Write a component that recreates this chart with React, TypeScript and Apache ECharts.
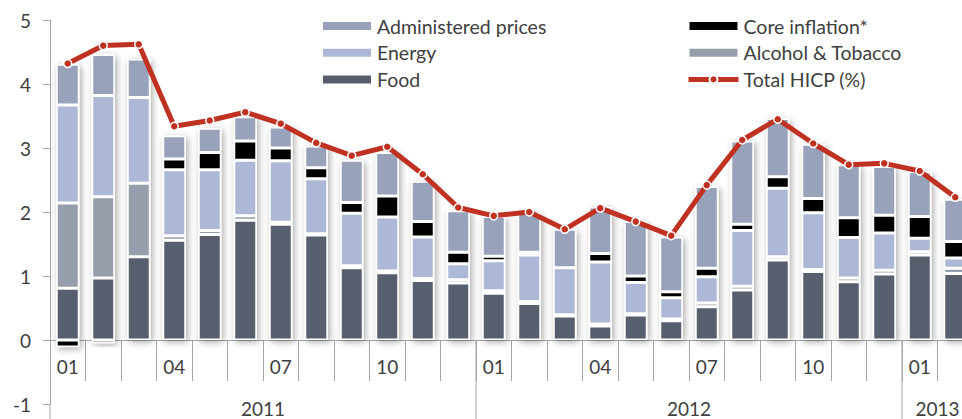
import React, { useEffect, useRef } from 'react';
import * as echarts from 'echarts';

const categories = [
  '2011-01', '2011-02', '2011-03', '2011-04', '2011-05', '2011-06', '2011-07', '2011-08', '2011-09', '2011-10', '2011-11', '2011-12',
  '2012-01', '2012-02', '2012-03', '2012-04', '2012-05', '2012-06', '2012-07', '2012-08', '2012-09', '2012-10', '2012-11', '2012-12',
  '2013-01', '2013-02',
];
const shownMonths = ['01', '04', '07', '10'];
const years = ['2011', '2012', '2013'];

const food = [0.81, 0.97, 1.30, 1.56, 1.65, 1.87, 1.81, 1.64, 1.13, 1.05, 0.93, 0.89, 0.73, 0.57, 0.375, 0.22, 0.39, 0.30, 0.52, 0.78, 1.25, 1.07, 0.91, 1.03, 1.33, 1.04];
const alcohol = [1.33, 1.27, 1.15, 0.07, 0.06, 0.07, 0.03, 0.02, 0.03, 0.03, 0.03, 0.05, 0.04, 0.03, 0.02, 0.03, 0.02, 0.03, 0.06, 0.06, 0.05, 0.03, 0.06, 0.06, 0.05, 0.08];
const energy = [1.53, 1.58, 1.34, 1.03, 0.95, 0.87, 0.96, 0.86, 0.82, 0.84, 0.65, 0.25, 0.47, 0.73, 0.735, 0.97, 0.49, 0.33, 0.41, 0.87, 1.07, 0.89, 0.63, 0.58, 0.21, 0.16];
const core = [-0.11, -0.05, 0, 0.17, 0.27, 0.30, 0.20, 0.17, 0.17, 0.33, 0.24, 0.18, 0.07, 0.04, 0, 0.13, 0.10, 0.095, 0.13, 0.10, 0.18, 0.22, 0.31, 0.28, 0.34, 0.26];
const administered = [0.64, 0.64, 0.60, 0.36, 0.38, 0.38, 0.33, 0.34, 0.66, 0.68, 0.63, 0.65, 0.62, 0.61, 0.60, 0.73, 0.85, 0.855, 1.28, 1.30, 0.91, 0.85, 0.83, 0.76, 0.70, 0.66];
const hicp = [4.32, 4.60, 4.62, 3.34, 3.43, 3.56, 3.38, 3.08, 2.88, 3.02, 2.59, 2.07, 1.94, 2.00, 1.73, 2.06, 1.85, 1.63, 2.42, 3.125, 3.45, 3.07, 2.74, 2.76, 2.64, 2.23];

const FONT = 'Lato, "Liberation Sans", sans-serif';
const TEXT = '#404040';
const AXIS = '#a6a6a6';
const RED = '#bf3120';

export default function App() {
  const ref = useRef<HTMLDivElement>(null);
  useEffect(() => {
    if (!ref.current) return;
    const chart = echarts.init(ref.current, undefined, { renderer: 'svg' });

    const posTotal = categories.map((_, i) => food[i] + alcohol[i] + energy[i] + Math.max(core[i], 0) + administered[i]);
    const negTotal = categories.map((_, i) => (core[i] < 0 ? core[i] : '-'));

    const shadowStyle = {
      color: '#ffffff',
      shadowColor: 'rgba(0,0,0,0.35)',
      shadowBlur: 7,
      shadowOffsetX: 2,
      shadowOffsetY: 2,
    };
    const seg = (name: string, data: number[], color: string) => ({
      name,
      type: 'bar',
      stack: 'total',
      data,
      barWidth: 23,
      barGap: '-100%',
      itemStyle: { color, borderColor: '#ffffff', borderWidth: 1.5 },
    });

    const legendText = { fontSize: 19.5, lineHeight: 20, color: TEXT, fontFamily: FONT };

    chart.setOption({
      animation: false,
      backgroundColor: '#ffffff',
      textStyle: { fontFamily: FONT },
      grid: { left: 50, top: 20, width: 923, height: 384, containLabel: false, outerBoundsMode: 'none' },
      legend: [
        {
          data: [
            { name: 'Administered prices', icon: 'rect' },
            { name: 'Energy', icon: 'rect' },
            { name: 'Food', icon: 'rect' },
          ],
          orient: 'vertical',
          left: 321,
          top: 16,
          padding: 0,
          itemWidth: 50,
          itemHeight: 10,
          itemGap: 6.7,
          textStyle: legendText,
          selectedMode: false,
        },
        {
          data: [
            { name: 'Core inflation*', icon: 'rect' },
            { name: 'Alcohol & Tobacco', icon: 'rect' },
            { name: 'Total HICP (%)' },
          ],
          orient: 'vertical',
          left: 686,
          top: 16,
          padding: 0,
          itemWidth: 50,
          itemHeight: 10,
          itemGap: 6.7,
          textStyle: legendText,
          lineStyle: { width: 5, color: RED },
          selectedMode: false,
        },
      ],
      xAxis: {
        type: 'category',
        data: categories,
        offset: -64,
        axisLine: { show: true, onZero: false, lineStyle: { color: AXIS, width: 1 } },
        axisTick: { show: true, interval: 0, length: 41, lineStyle: { color: AXIS, width: 1 } },
        axisLabel: {
          interval: 0,
          margin: 17,
          fontSize: 19,
          color: TEXT,
          fontFamily: FONT,
          formatter: (v: string) => {
            const m = v.split('-')[1];
            return shownMonths.includes(m) ? m : '';
          },
        },
        splitLine: { show: false },
      },
      yAxis: {
        type: 'value',
        min: -1,
        max: 5,
        interval: 1,
        axisLine: { show: true, lineStyle: { color: AXIS, width: 1 } },
        axisTick: { show: true, length: 7, lineStyle: { color: AXIS } },
        axisLabel: { fontSize: 19, color: TEXT, margin: 19, fontFamily: FONT },
        splitLine: { show: false },
      },
      series: [
        { type: 'bar', data: posTotal, barWidth: 23, barGap: '-100%', silent: true, itemStyle: shadowStyle },
        { type: 'bar', data: negTotal, barWidth: 23, barGap: '-100%', silent: true, itemStyle: shadowStyle },
        seg('Food', food, '#575e6d'),
        seg('Alcohol & Tobacco', alcohol, '#969dab'),
        seg('Energy', energy, '#acb8d5'),
        seg('Core inflation*', core, '#000000'),
        seg('Administered prices', administered, '#99a2bb'),
        {
          name: 'Total HICP (%)',
          type: 'line',
          data: hicp,
          symbol: 'circle',
          symbolSize: 8,
          showSymbol: true,
          lineStyle: { color: RED, width: 5 },
          itemStyle: { color: RED, borderColor: '#ffffff', borderWidth: 1.5 },
          z: 5,
        },
      ],
    });

    // Year dividers and labels, positioned through the axis scale
    const cx = (i: number) => chart.convertToPixel({ xAxisIndex: 0 }, categories[i]) as number;
    const bw = cx(1) - cx(0);
    const y0 = chart.convertToPixel({ yAxisIndex: 0 }, 0) as number;
    const yMin = chart.convertToPixel({ yAxisIndex: 0 }, -1) as number;
    const left = cx(0) - bw / 2;
    const graphics: any[] = [
      { type: 'line', shape: { x1: left, y1: yMin, x2: left, y2: 419 }, style: { stroke: AXIS, lineWidth: 1 }, silent: true },
    ];
    years.forEach((yr) => {
      const idx = categories.map((c, i) => (c.startsWith(yr) ? i : -1)).filter((i) => i >= 0);
      const start = cx(idx[0]) - bw / 2;
      const end = cx(idx[idx.length - 1]) + bw / 2;
      if (idx[0] > 0) {
        graphics.push({
          type: 'line',
          shape: { x1: start, y1: y0, x2: start, y2: 419 },
          style: { stroke: AXIS, lineWidth: 1 },
          silent: true,
        });
      }
      graphics.push({
        type: 'text',
        x: (start + end) / 2,
        y: 408,
        style: { text: yr, fontSize: 19, fill: TEXT, fontFamily: FONT, align: 'center', verticalAlign: 'middle' },
        silent: true,
      });
    });
    chart.setOption({ graphic: graphics });

    return () => chart.dispose();
  }, []);

  return (
    <div
      ref={ref}
      style={{ position: 'fixed', left: 0, top: 0, width: 962, height: 419, background: '#ffffff' }}
    />
  );
}
